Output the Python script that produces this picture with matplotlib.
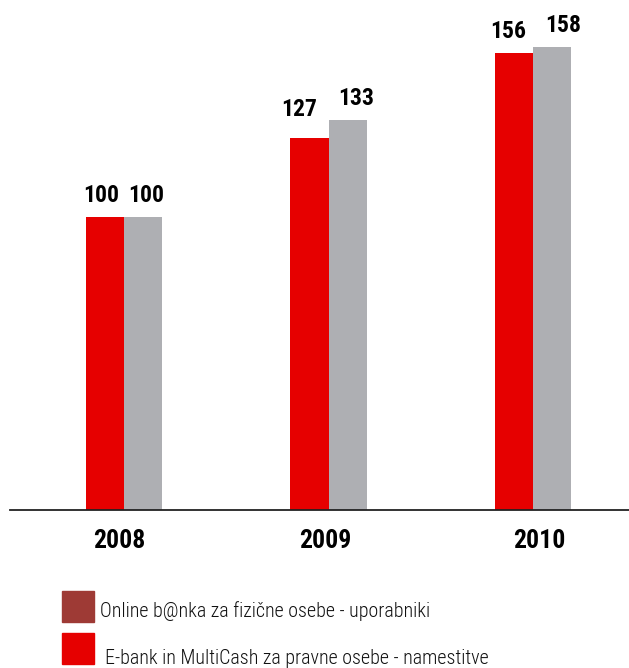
import matplotlib.pyplot as plt
from matplotlib.patches import Rectangle
from matplotlib import font_manager
import numpy as np

# podatki
leta = ['2008', '2009', '2010']
online_banka = [100, 127, 156]
ebank_multicash = [100, 133, 158]
legenda = ['Online b@nka za fizične osebe - uporabniki',
           'E-bank in MultiCash za pravne osebe - namestitve']

rdeca = '#e60000'
siva = '#aeafb3'
temno_rdeca = '#9e3a35'

# zamiki napisov vrednosti (px): (dx, dy) za vsak stolpec
zamik_rdeci = [(-4, 0), (-10, 7), (-6, 0)]
zamik_sivi = [(3, 0), (9, 0), (11, 0)]
zamik_let = [-5, -3, 6]

imena = {f.name for f in font_manager.fontManager.ttflist}
ozka = next((n for n in ('Roboto Condensed', 'Archivo Narrow', 'Barlow Condensed')
             if n in imena), 'DejaVu Sans')
plt.rcParams['font.family'] = [ozka, 'DejaVu Sans']

W, H = 629, 668
fig = plt.figure(figsize=(W / 100, H / 100), dpi=100)
ax = fig.add_axes([10 / W, (H - 510) / H, 619 / W, 510 / H])

x = np.arange(len(leta))
sirina = 0.186
b1 = ax.bar(x - sirina / 2, online_banka, sirina, color=rdeca, zorder=2)
b2 = ax.bar(x + sirina / 2, ebank_multicash, sirina, color=siva, zorder=2)

pt = 72 / 100  # px -> pt
for stolpci, vrednosti, zamiki in ((b1, online_banka, zamik_rdeci),
                                   (b2, ebank_multicash, zamik_sivi)):
    for s, v, (dx, dy) in zip(stolpci, vrednosti, zamiki):
        ax.annotate(str(v), (s.get_x() + s.get_width() / 2, v),
                    xytext=(dx * pt, (10 + dy) * pt), textcoords='offset points',
                    ha='center', va='bottom', fontsize=17, fontweight='bold')

ax.set_xlim(-0.557, 2.469)
ax.set_ylim(0, 174)
for k in ('left', 'right', 'top'):
    ax.spines[k].set_visible(False)
ax.spines['bottom'].set_linewidth(1.3)
ax.spines['bottom'].set_color('#222222')
ax.set_yticks([])
ax.set_xticks([])

for xi, leto, dx in zip(x, leta, zamik_let):
    ax.annotate(leto, (xi, 0), xycoords=('data', 'axes fraction'),
                xytext=(dx * pt, -19 * pt), textcoords='offset points',
                ha='center', va='top', fontsize=18.5, fontweight='bold')

# legenda
barve = [temno_rdeca, rdeca]
y_kvadrat = [591, 633]
x_besedilo = [100, 105]
y_besedilo = [611, 658]
for i in range(2):
    fig.patches.append(Rectangle((62 / W, 1 - (y_kvadrat[i] + 31) / H), 32 / W, 31 / H,
                                 transform=fig.transFigure, color=barve[i]))
    fig.text(x_besedilo[i] / W, 1 - y_besedilo[i] / H, legenda[i],
             fontsize=14.4, fontweight='light', va='center', ha='left', color='#111111')

fig.savefig('out.png', dpi=100)
